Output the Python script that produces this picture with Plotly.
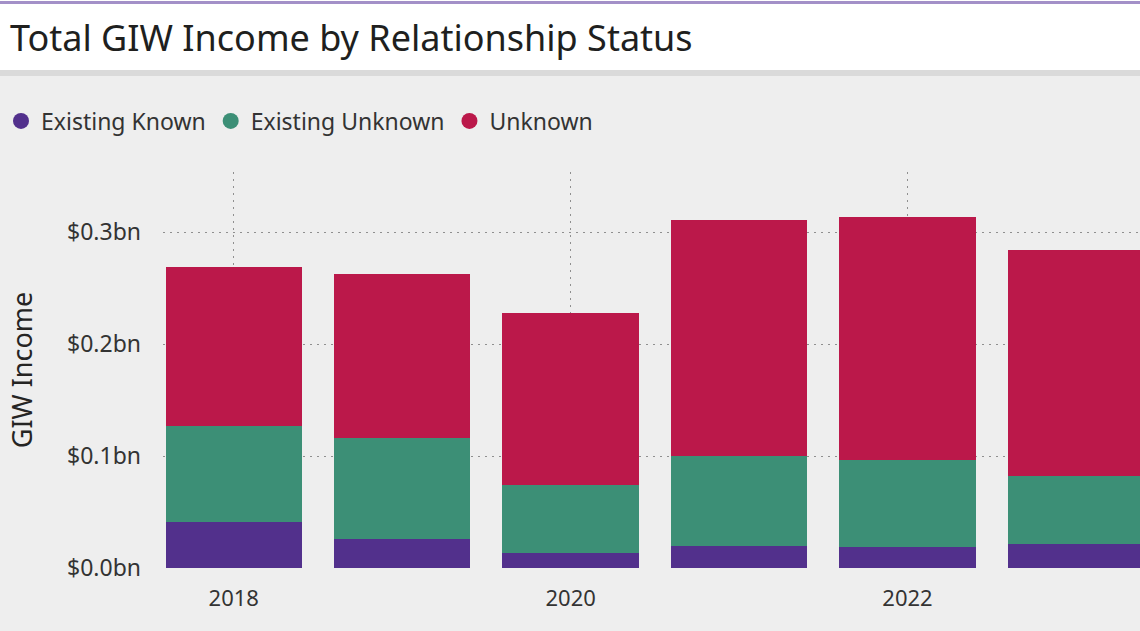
import plotly.graph_objects as go

# data (values in $bn)
years = [2018, 2019, 2020, 2021, 2022, 2023]
existing_known = [0.041, 0.026, 0.0134, 0.0196, 0.019, 0.0214]
existing_unknown = [0.086, 0.090, 0.0606, 0.0804, 0.0774, 0.0606]
unknown = [0.142, 0.1465, 0.154, 0.211, 0.217, 0.202]

series_names = ["Existing Known", "Existing Unknown", "Unknown"]
series_colors = ["#52308c", "#3c8f76", "#bb184a"]

y_tickvals = [0, 0.1, 0.2, 0.3]
y_ticktext = ["$0.0bn", "$0.1bn", "$0.2bn", "$0.3bn"]
x_tickvals = [2018, 2020, 2022]

W, H = 1140, 631
M_L, M_R, M_T, M_B = 163, 0, 172, 63
FONT = "Segoe UI, Noto Sans, Open Sans, sans-serif"
GRID = "#8f8f8f"

fig = go.Figure()
for name, vals, col in zip(series_names, [existing_known, existing_unknown, unknown], series_colors):
    fig.add_trace(go.Bar(
        x=years, y=vals, name=name, legendgroup=name, showlegend=False,
        marker=dict(color=col, line=dict(width=0)),
        width=0.81,
    ))
    # legend entry drawn as a circle, like the original
    fig.add_trace(go.Scatter(
        x=[None], y=[None], mode="markers", name=name, legendgroup=name,
        marker=dict(color=col, size=16, symbol="circle"),
    ))

# title bar and separators (paper coords from pixel positions)
plot_w = W - M_L - M_R
plot_h = H - M_T - M_B
def py(px):
    return (H - M_B - px) / plot_h
x_left = -M_L / plot_w

fig.add_shape(type="rect", xref="paper", yref="paper",
              x0=x_left, x1=1, y0=py(70), y1=py(0),
              fillcolor="white", line_width=0, layer="below")
fig.add_shape(type="rect", xref="paper", yref="paper",
              x0=x_left, x1=1, y0=py(76), y1=py(70),
              fillcolor="#dadada", line_width=0, layer="below")
fig.add_shape(type="rect", xref="paper", yref="paper",
              x0=x_left, x1=1, y0=py(4), y1=py(1),
              fillcolor="#a390c8", line_width=0, layer="below")

fig.update_layout(
    width=W, height=H,
    margin=dict(l=M_L, r=M_R, t=M_T, b=M_B),
    barmode="stack",
    paper_bgcolor="#eeeeee",
    plot_bgcolor="#eeeeee",
    font=dict(family=FONT, color="#333333"),
    title=dict(
        text="Total GIW Income by Relationship Status",
        xref="container", yref="container",
        x=10 / W, y=1 - 38 / H, xanchor="left", yanchor="middle",
        font=dict(size=36, color="#201f1e", family=FONT),
    ),
    legend=dict(
        orientation="h",
        traceorder="normal",
        xref="container", yref="container",
        x=1 / W, y=1 - 121 / H, xanchor="left", yanchor="middle",
        font=dict(size=23, color="#333333"),
        itemsizing="trace",
        itemwidth=30,
        bgcolor="rgba(0,0,0,0)",
    ),
    xaxis=dict(
        range=[2017.58, 2023.38],
        tickmode="array",
        tickvals=x_tickvals,
        ticktext=[str(v) for v in x_tickvals],
        showgrid=True, gridcolor=GRID, griddash="2px,5px", gridwidth=1,
        zeroline=False, showline=False,
        ticks="", ticklabelstandoff=15,
        tickfont=dict(size=22, color="#333333"),
    ),
    yaxis=dict(
        range=[0, 0.354],
        tickmode="array",
        tickvals=y_tickvals,
        ticktext=y_ticktext,
        showgrid=True, gridcolor=GRID, griddash="2px,5px", gridwidth=1,
        zeroline=False, showline=False,
        ticks="", ticklabelstandoff=21,
        tickfont=dict(size=23, color="#333333"),
        title=dict(text="GIW Income", font=dict(size=27, color="#252423"), standoff=26),
        automargin=False,
    ),
)

fig.write_html("out.html", config={"displayModeBar": False},
               post_script="document.body.style.margin='0';")
